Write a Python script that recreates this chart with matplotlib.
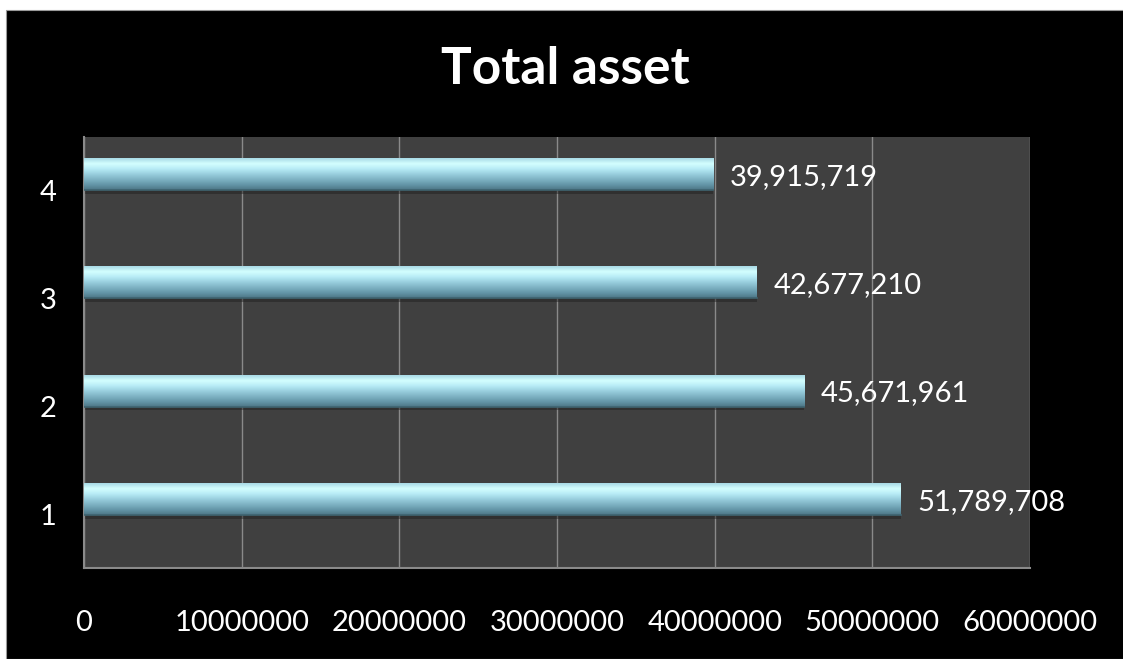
import matplotlib.pyplot as plt
import matplotlib.transforms as mtransforms
import numpy as np
from matplotlib.colors import LinearSegmentedColormap
from matplotlib.patches import Rectangle

categories = ["1", "2", "3", "4"]
values = [51789708, 45671961, 42677210, 39915719]
xticks = [0, 10000000, 20000000, 30000000, 40000000, 50000000, 60000000]

FONT = "Lato"
BAR_H = 0.295

fig = plt.figure(figsize=(11.23, 6.59), dpi=100, facecolor="white")
# black slide background with a thin white margin on the top/left
fig.patches.append(Rectangle((6 / 1123, 0), 1, 1 - 10 / 659, transform=fig.transFigure,
                             facecolor="black", edgecolor="#9a9a9a", linewidth=0.8,
                             zorder=-10))

ax = fig.add_axes([0.0748, 0.1381, 0.9172 - 0.0748, 0.7921 - 0.1381])
ax.set_facecolor("#404040")

ypos = np.arange(1, len(categories) + 1)

# glossy cylinder-like fill for the bars
shade = LinearSegmentedColormap.from_list(
    "shade", ["#4d7686", "#6597a9", "#7fb3c4", "#99cfde", "#b8ecf6", "#d4ffff", "#a8dae6"])
grad = np.linspace(0, 1, 64).reshape(-1, 1)

# drop shadow under each bar
ax.barh(ypos - 0.035, values, height=BAR_H, color="#1e1e1e", alpha=0.45,
        left=0, zorder=2, linewidth=0)
bars = ax.barh(ypos, values, height=BAR_H, color="#8cc4d4", zorder=3, linewidth=0)
for bar in bars:
    x0, y0 = bar.get_x(), bar.get_y()
    w, h = bar.get_width(), bar.get_height()
    im = ax.imshow(grad, cmap=shade, aspect="auto", origin="lower",
                   extent=(x0, x0 + w, y0, y0 + h), zorder=4, interpolation="bicubic")
    im.set_clip_path(bar)
    ax.plot([x0, x0 + w], [y0, y0], color="#3f6470", lw=1.2, zorder=5)

for y, v in zip(ypos, values):
    ax.annotate(f"{v:,}", xy=(v, y), xytext=(12, -2), textcoords="offset points",
                ha="left", va="center", color="white", fontsize=21, family=FONT)

ax.set_xlim(0, 60000000)
ax.set_ylim(0.363, 4.342)
ax.set_xticks(xticks)
ax.set_xticklabels([str(t) for t in xticks])
ax.set_yticks(ypos)
ax.set_yticklabels(categories)
ax.grid(axis="x", color="#8a8a8a", linewidth=1.0, zorder=1)
ax.set_axisbelow(True)

for side in ["top", "right"]:
    ax.spines[side].set_visible(False)
for side in ["left", "bottom"]:
    ax.spines[side].set_color("#8a8a8a")
    ax.spines[side].set_linewidth(1.5)

ax.tick_params(axis="both", length=0, colors="white", labelsize=21)
ax.tick_params(axis="x", pad=30)
ax.tick_params(axis="y", pad=20)
for lbl in ax.get_xticklabels() + ax.get_yticklabels():
    lbl.set_family(FONT)
# category labels sit a little lower than the bars
offset = mtransforms.ScaledTranslation(0, -16 / 100, fig.dpi_scale_trans)
for lbl in ax.get_yticklabels():
    lbl.set_transform(lbl.get_transform() + offset)

fig.text(0.503, 1 - 70 / 659, "Total asset", ha="center", va="center",
         color="white", fontsize=37, fontweight="bold", family=FONT)

fig.savefig("out.png", dpi=100, facecolor=fig.get_facecolor())
